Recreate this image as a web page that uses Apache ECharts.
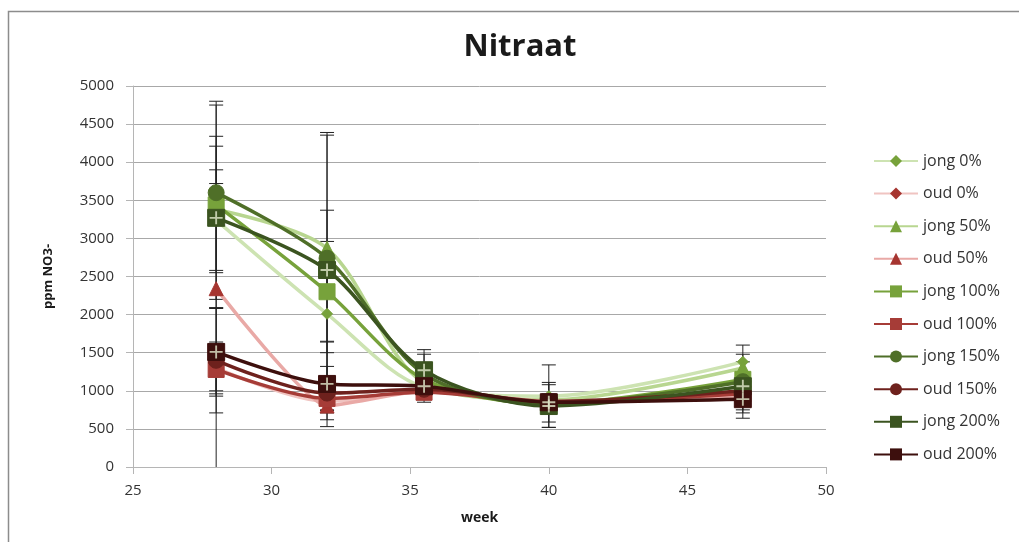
<!DOCTYPE html>
<html><head><meta charset="utf-8">
<script src="https://cdn.jsdelivr.net/npm/echarts@6/dist/echarts.min.js"></script>
<style>html,body{margin:0;padding:0;background:#fff}#c{width:1019px;height:542px}</style>
</head><body><div id="c"></div>
<script>
const weeks = [28, 32, 35.5, 40, 47];
const seriesNames = ['jong 0%','oud 0%','jong 50%','oud 50%','jong 100%','oud 100%','jong 150%','oud 150%','jong 200%','oud 200%'];
const jong0   = [3240, 2010, 1050, 930, 1380];
const oud0    = [1300, 860, 990, 870, 920];
const jong50  = [3380, 2870, 1100, 880, 1300];
const oud50   = [2340, 800, 1000, 860, 900];
const jong100 = [3440, 2300, 1150, 830, 1150];
const oud100  = [1280, 900, 980, 850, 960];
const jong150 = [3600, 2740, 1220, 820, 1120];
const oud150  = [1400, 970, 1020, 860, 1000];
const jong200 = [3270, 2585, 1270, 800, 1060];
const oud200  = [1510, 1090, 1060, 850, 890];
// symmetric error bar half-widths
const errJong0   = [660, 510, 80, 410, 220];
const errOud0    = [340, 150, 80, 80, 80];
const errJong50  = [830, 500, 80, 80, 80];
const errOud50   = [2410, 60, 80, 80, 80];
const errJong100 = [1360, 660, 80, 80, 80];
const errOud100  = [280, 150, 80, 260, 210];
const errJong150 = [120, 1650, 260, 80, 80];
const errOud150  = [690, 350, 80, 80, 80];
const errJong200 = [1070, 1770, 270, 280, 420];
const errOud200  = [580, 560, 210, 80, 180];
const yTicks = [0,500,1000,1500,2000,2500,3000,3500,4000,4500,5000];
const xTicks = [25,30,35,40,45,50];

const values = [jong0,oud0,jong50,oud50,jong100,oud100,jong150,oud150,jong200,oud200];
const errors = [errJong0,errOud0,errJong50,errOud50,errJong100,errOud100,errJong150,errOud150,errJong200,errOud200];
const lineColors = ['#cde3b2','#f0c4c1','#b8d690','#e9a9a6','#77a23b','#a63c37','#4f6f28','#6e211d','#3b5420','#3d0f0d'];
const markColors = ['#77a23b','#a63530','#77a23b','#a63530','#77a23b','#a63c37','#4f6f28','#6e211d','#3b5420','#3d0f0d'];
const symbols = ['diamond','diamond','triangle','triangle','rect','rect','circle','circle','rect','rect'];
const sizes = [11,11,14,14,16,16,16,16,17,17];
const smooths = [0.3,0.3,0.3,0.15,0.3,0.3,0.3,0.3,0.3,0.3];

const errData = [];
values.forEach((v, si) => v.forEach((val, i) => errData.push([weeks[i], val - errors[si][i], val + errors[si][i]])));

const series = [{
  type: 'custom', name: 'err', z: 1, silent: true,
  data: errData,
  encode: {x: 0, y: [1, 2]},
  renderItem: function (params, api) {
    const x = api.value(0);
    const lo = Math.max(0, api.value(1));
    const hi = api.value(2);
    const p1 = api.coord([x, lo]);
    const p2 = api.coord([x, hi]);
    const w = 7;
    const st = {stroke: '#222', lineWidth: 1};
    const ch = [{type: 'line', shape: {x1: p1[0], y1: p1[1], x2: p2[0], y2: p2[1]}, style: st},
                {type: 'line', shape: {x1: p2[0]-w, y1: p2[1], x2: p2[0]+w, y2: p2[1]}, style: st}];
    if (api.value(1) > 0) ch.push({type: 'line', shape: {x1: p1[0]-w, y1: p1[1], x2: p1[0]+w, y2: p1[1]}, style: st});
    return {type: 'group', children: ch};
  }
}];
seriesNames.forEach((n, si) => {
  series.push({
    type: 'line', name: n, z: 2 + si * 0.01, smooth: smooths[si],
    data: values[si].map((v, i) => [weeks[i], v]),
    symbol: symbols[si], symbolSize: sizes[si], showAllSymbol: true,
    lineStyle: {color: lineColors[si], width: 3.5},
    itemStyle: {color: markColors[si], borderColor: markColors[si]}
  });
});
[8, 9].forEach(si => {
  series.push({
    type: 'scatter', name: seriesNames[si] + ' +', z: 3, silent: true,
    symbol: 'path://M6,0h2v6h6v2h-6v6h-2v-6h-6v-2h6z', symbolSize: 13,
    itemStyle: {color: '#e2e8cc'},
    data: values[si].map((v, i) => [weeks[i], v])
  });
});

const chart = echarts.init(document.getElementById('c'));
chart.setOption({
  animation: false,
  backgroundColor: '#fff',
  title: {text: 'Nitraat', left: 515, top: 27, textAlign: 'center',
    textStyle: {fontFamily: 'Open Sans', fontWeight: 'bold', fontSize: 31, color: '#1a1a1a'}},
  grid: {left: 133, right: 193, top: 86, bottom: 75},
  legend: {
    orient: 'vertical', left: 868, top: 148, itemGap: 16.6, itemWidth: 44, itemHeight: 15,
    data: seriesNames,
    textStyle: {fontFamily: 'Open Sans', fontSize: 16, color: '#333'}
  },
  xAxis: {
    type: 'value', min: 25, max: 50, interval: 5,
    axisLine: {lineStyle: {color: '#b5b5b5', width: 1}},
    axisTick: {show: true, length: 7, lineStyle: {color: '#b5b5b5'}},
    splitLine: {show: false},
    axisLabel: {margin: 16, fontFamily: 'Open Sans', fontSize: 15, color: '#333',
      formatter: v => xTicks.includes(v) ? String(v) : ''},
    name: 'week', nameLocation: 'middle', nameGap: 44,
    nameTextStyle: {fontFamily: 'Open Sans', fontWeight: 'bold', fontSize: 14, color: '#1a1a1a'}
  },
  yAxis: {
    type: 'value', min: 0, max: 5000, interval: 500,
    axisLine: {show: true, lineStyle: {color: '#b5b5b5', width: 1}},
    axisTick: {show: true, length: 7, lineStyle: {color: '#b5b5b5'}},
    splitLine: {show: true, lineStyle: {color: '#a8a8a8', width: 1}},
    axisLabel: {margin: 19, fontFamily: 'Open Sans', fontSize: 15, color: '#333',
      formatter: v => yTicks.includes(v) ? String(v) : ''},
    name: 'ppm NO3-', nameLocation: 'middle', nameGap: 78, nameRotate: 90,
    nameTextStyle: {fontFamily: 'Open Sans', fontWeight: 'bold', fontSize: 13, color: '#1a1a1a'}
  },
  graphic: [{type: 'rect', z: -10, silent: true,
    shape: {x: 8.5, y: 11.5, width: 1030, height: 560},
    style: {fill: 'none', stroke: '#8c8c8c', lineWidth: 1.5}}],
  series: series
});
</script></body></html>
